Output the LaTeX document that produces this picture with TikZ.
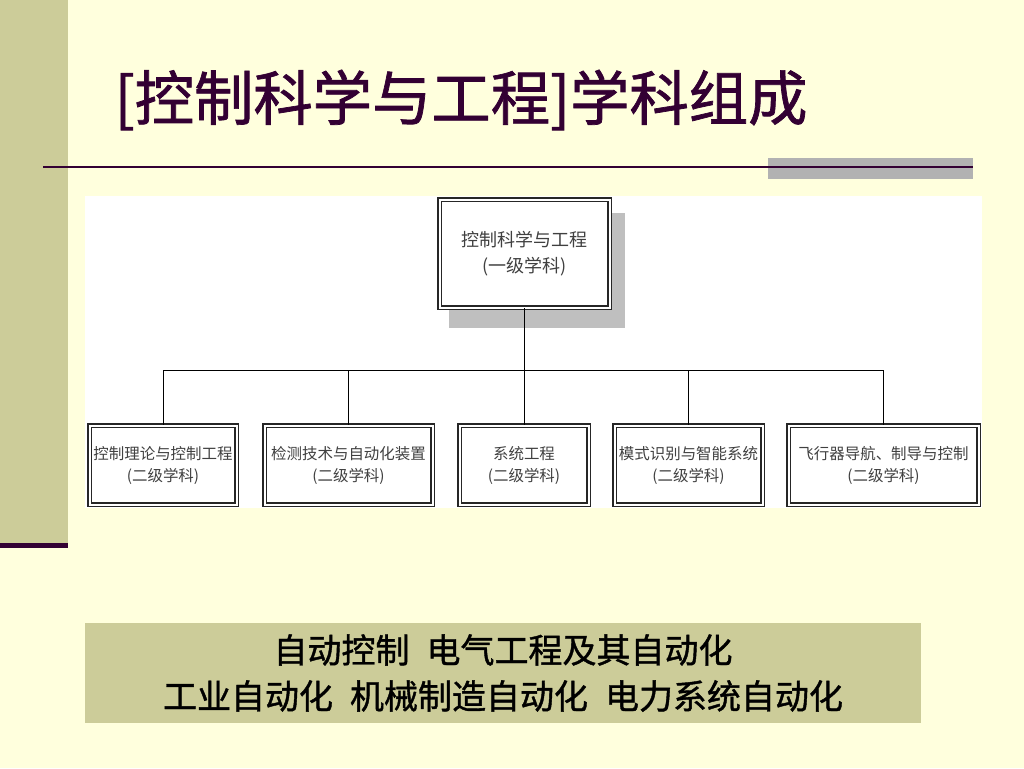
\documentclass[tikz,border=0pt]{standalone}
\usepackage{fontspec}
\newfontfamily\cjk{Noto Sans CJK SC}
\newfontfamily\cjkmid[FakeBold=1.2]{Noto Sans CJK SC}
\definecolor{paper}{HTML}{FFFFDD}
\definecolor{sage}{HTML}{CCCC99}
\definecolor{plum}{HTML}{330033}

\begin{document}
\begin{tikzpicture}[x=0.75pt,y=-0.75pt,
	box/.style={draw=black!85,fill=white,double,double distance=1.5pt,line width=0.9pt,inner sep=0pt,align=center,text=black!75,font=\cjk\fontsize{11.6}{16.5}\selectfont},
	link/.style={draw=black,line width=0.75pt}]
	%page
	\fill[paper] (0,0) rectangle (1024,768);
	\useasboundingbox (0,0) rectangle (1024,768);
	\fill[sage] (0,0) rectangle (68,543);
	\fill[plum] (0,543) rectangle (68,548);
	
	%title
	\node[anchor=west,text=plum,font=\cjkmid\fontsize{44.5}{50}\selectfont] (title) at (110,100) {[控制科学与工程]学科组成};
	\fill[black!30] (768,158) rectangle (973,179);
	\draw[plum,line width=1.5pt] (43,167) -- (973,167);
	
	%chart
	\fill[white] (85,196) rectangle (982,508);
	\fill[black!25] (449,213) rectangle (625,328);		%shadow
	\node[box,minimum width=127.5pt,minimum height=81pt,font=\cjk\fontsize{13.5}{19.5}\selectfont] (top) at (524.5,253.5) {控制科学与工程\\(一级学科)};
	\node[box,minimum width=110.25pt,minimum height=59.25pt] (b1) at (163,465) {控制理论与控制工程\\(二级学科)};
	\node[box,minimum width=126pt,minimum height=59.25pt] (b2) at (348.5,465) {检测技术与自动化装置\\(二级学科)};
	\node[box,minimum width=96.75pt,minimum height=59.25pt] (b3) at (524,465) {系统工程\\(二级学科)};
	\node[box,minimum width=111pt,minimum height=59.25pt] (b4) at (688.5,465) {模式识别与智能系统\\(二级学科)};
	\node[box,minimum width=142.5pt,minimum height=59.25pt] (b5) at (883.5,465) {飞行器导航、制导与控制\\(二级学科)};
	
	%links
	\coordinate (bus) at (0,370);
	\draw[link] (top.south) -- (top.south |- bus) -| (b1.north);
	\draw[link] (top.south |- bus) -| (b2.north);
	\draw[link] (top.south |- bus) -| (b3.north);
	\draw[link] (top.south |- bus) -| (b4.north);
	\draw[link] (top.south |- bus) -| (b5.north);
	
	%note
	\node[fill=sage,minimum width=627pt,minimum height=75pt,inner sep=0pt,align=center,font=\cjkmid\fontsize{25.5}{34.5}\selectfont] (note) at (503,673) {自动控制\hspace{0.5em}电气工程及其自动化\\工业自动化\hspace{0.5em}机械制造自动化\hspace{0.5em}电力系统自动化};
\end{tikzpicture}
\end{document}
